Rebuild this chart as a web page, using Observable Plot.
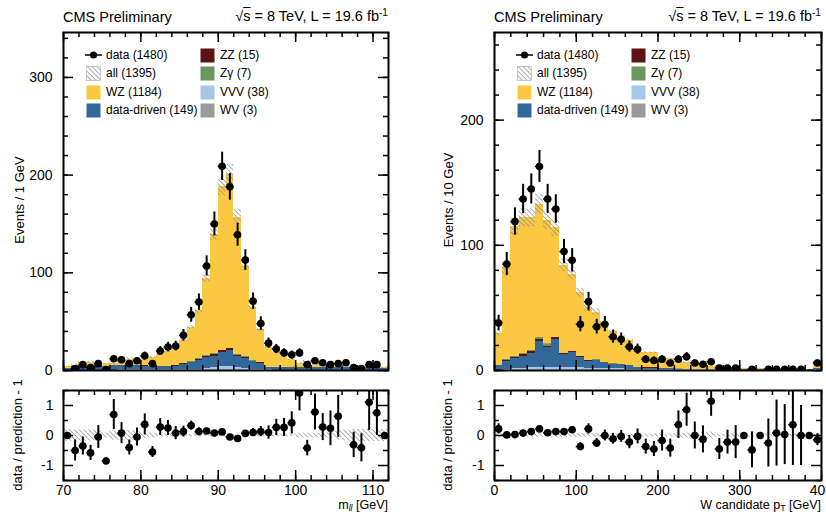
<!DOCTYPE html>
<html><head><meta charset="utf-8">
<script src="https://cdn.jsdelivr.net/npm/d3@7"></script>
<script src="https://cdn.jsdelivr.net/npm/@observablehq/plot@0.6"></script>
<style>
html,body{margin:0;padding:0;background:#fff;}
#wrap{position:relative;width:826px;height:515px;overflow:hidden;font-family:"Liberation Sans",Arial,Helvetica,sans-serif;color:#000;}
.t{position:absolute;white-space:nowrap;line-height:1;}
.rot{position:absolute;white-space:nowrap;line-height:1;transform:translate(-50%,-50%) rotate(-90deg);font-size:13px;}
.leg{position:absolute;font-size:12px;white-space:nowrap;line-height:1;}
sub{font-size:70%;vertical-align:-0.25em;line-height:0;}
sup{font-size:70%;vertical-align:0.5em;line-height:0;}
</style></head>
<body>
<svg style="position:absolute;left:0;top:0;width:0;height:0">
<defs><pattern id="hatch" patternUnits="userSpaceOnUse" width="3.4" height="3.4" patternTransform="rotate(-45)"><line x1="0" y1="-1" x2="0" y2="5" stroke="#8c8c8c" stroke-width="1.4"/></pattern></defs></svg>
<div id="wrap"></div>
<script>
// ---------- data ----------
const seriesOrder = ["VVV","data-driven","ZZ","Zγ","WV","WZ"];
const seriesColors = ["#a6c8e8","#33689b","#5c1313","#6a9660","#9a9a9a","#fbc941"];
const legendLabels = [["data (1480)","all (1395)","WZ (1184)","data-driven (149)"],["ZZ (15)","Zγ (7)","VVV (38)","WV (3)"]];

// left: m_ll, 1 GeV bins from 70 to 112
const massLow = d3.range(70, 112, 1);
const dataL = [0,2,6,3,7,1,12,11,7,10, 15,7,20,24,25,36,57,70,107,150, 209,188,139,113,71,48,28,22,18,16, 18,6,10,8,6,7,8,3,2,6, 6,0];
const vvvL = [0.3,0.4,0.4,0.4,0.5,0.5,0.5,0.6,0.6,0.6, 0.6,0.6,0.7,0.7,0.8,0.9,1.1,1.5,2.3,3.2, 4.2,4.6,3.4,2.4,1.4,1.0,0.6,0.5,0.5,0.5, 0.4,0.4,0.4,0.4,0.3,0.3,0.3,0.3,0.3,0.3, 0.3,0.2];
const ddL = [1.8,3.0,3.0,3.0,2.9,3.4,4.4,4.3,4.3,4.3, 3.8,3.3,3.2,3.2,3.6,5.4,6.9,9.1,10.9,11.6, 14.1,15.7,10.6,10.1,7.6,6.3,2.0,2.1,2.1,2.6, 2.2,2.2,2.2,2.2,2.3,2.3,2.3,2.3,2.3,2.3, 2.3,1.5];
const zzL = [0.2,0.3,0.3,0.3,0.3,0.3,0.3,0.3,0.3,0.3, 0.3,0.3,0.3,0.3,0.3,0.4,0.6,0.9,1.2,1.5, 1.8,1.8,1.3,1.0,0.6,0.4,0.2,0.2,0.2,0.2, 0.2,0.2,0.2,0.2,0.2,0.2,0.2,0.2,0.2,0.2, 0.2,0.1];
const zgL = [0.1,0.2,0.2,0.2,0.2,0.2,0.2,0.2,0.2,0.2, 0.2,0.2,0.2,0.2,0.2,0.2,0.3,0.4,0.5,0.6, 0.8,0.8,0.6,0.4,0.3,0.2,0.1,0.1,0.1,0.1, 0.1,0.1,0.1,0.1,0.1,0.1,0.1,0.1,0.1,0.1, 0.1,0.1];
const wvL = [0.07,0.07,0.07,0.07,0.07,0.07,0.07,0.07,0.07,0.07, 0.07,0.07,0.07,0.07,0.07,0.07,0.07,0.07,0.07,0.07, 0.07,0.07,0.07,0.07,0.07,0.07,0.07,0.07,0.07,0.07, 0.07,0.07,0.07,0.07,0.07,0.07,0.07,0.07,0.07,0.07, 0.07,0.07];
const wzL = [1.5,1.5,4,4,3,2.5,1.5,4.5,6,5, 6,9,11.5,14.5,18,24,35,49,79,122, 167,178,141,93,55,34,21,15,11.5,7.5, 4.5,6.5,2.5,4,1.7,1,0.5,1.5,1,0.5, 0.7,1];
const relErrL = [0.2,0.18,0.18,0.18,0.18,0.08,0.16,0.16,0.16,0.16, 0.1,0.08,0.05,0.05,0.05,0.04,0.04,0.04,0.04,0.04, 0.05,0.05,0.05,0.04,0.04,0.04,0.04,0.04,0.04,0.04, 0.08,0.08,0.08,0.08,0.08,0.15,0.18,0.2,0.2,0.2, 0.2,0.2];
const ratioL = [0,-0.5,-0.35,-0.58,-0.05,-0.85,0.7,0.08,-0.4,-0.05, 0.37,-0.55,0.28,0.25,0.08,0.13,0.33,0.13,0.15,0.08, 0.12,-0.05,-0.1,0.07,0.1,0.13,0.1,0.27,0.27,0.42, 1.42,-0.42,0.78,0.28,0.24,0.64,null,-0.31,-0.41,1.11, 0.76,0];
const ratioErrL = [0,0.35,0.3,0.25,0.38,0.1,0.5,0.35,0.25,0.3, 0.35,0.18,0.28,0.25,0.22,0.18,0.15,0.13,0.1,0.09, 0.08,0.07,0.08,0.1,0.13,0.17,0.22,0.27,0.3,0.37, 0.6,0.26,0.6,0.45,0.58,0.7,0,0.42,0.47,0.94, 0.76,0];

// right: W candidate pT, 10 GeV bins from 0 to 400
const ptLow = d3.range(0, 400, 10);
const dataR = [38,85,119,137,145,163,137,129,95,88, 37,55,35,37,27,25,19,17,9,8, 9,6,9,11,6,5,7,2,2,2, 0,1,0,1,1,1,1,1,0,6];
const vvvR = [0.3,0.8,1.2,1.5,2,2.5,2.5,2.5,2.3,2.2, 2,1.8,1.6,1.4,1.3,1.2,1.1,1,0.9,0.8, 0.8,0.7,0.6,0.6,0.5,0.5,0.4,0.4,0.4,0.3, 0.3,0.3,0.3,0.2,0.2,0.2,0.2,0.2,0.2,0.8];
const ddR = [3.3,6.5,8.5,10.0,11.7,20.7,15.6,22.4,10.2,12.2, 8.3,5.4,6.3,4.8,3.5,3.2,2.5,1.4,1.0,1.1, 0.6,0.6,0.4,0.3,0.3,0.3,0.2,0.2,0.1,0.1, 0.1,0.1,0.1,0.1,0.1,0.1,0.1,0.1,0.1,0.6];
const zzR = [0.2,0.8,1,1.2,1.3,1.5,1.2,1.3,1,0.8, 0.6,0.5,0.4,0.3,0.3,0.2,0.2,0.2,0.1,0.1, 0.1,0.1,0.1,0.1,0.1,0.05,0.05,0.05,0.05,0.05, 0.05,0.05,0.05,0.05,0.05,0.05,0.05,0.05,0.05,0.2];
const zgR = [0.1,0.3,0.4,0.5,0.8,1.8,1.8,0.4,0.3,0.2, 0.2,0.2,0.1,0.1,0.1,0.1,0.1,0.05,0.05,0.05, 0.05,0.05,0.05,0.05,0.05,0.05,0.05,0.05,0.05,0.05, 0.05,0.05,0.05,0.05,0.05,0.05,0.05,0.05,0.05,0.1];
const wvR = [0.05,0.1,0.1,0.1,0.15,0.15,0.15,0.1,0.1,0.1, 0.1,0.1,0.1,0.05,0.05,0.05,0.05,0.05,0.05,0.05, 0.05,0.05,0.05,0.05,0.05,0.05,0.05,0.05,0.05,0.05, 0.05,0.05,0.05,0.05,0.05,0.05,0.05,0.05,0.05,0.05];
const wzR = [26,73.5,103.8,108.7,106,106.3,98.7,87.3,70.1,61.5, 50.8,42,38.2,31.3,25.7,21.7,20,13.8,12.4,11.9, 8.9,8,5.8,5.4,5,4.6,2.8,2.9,2.0,2.1, 1.3,1.4,1.0,0.9,0.6,0.6,0.4,0.6,0.4,5.2];
const relErrR = [0.08,0.06,0.06,0.06,0.06,0.06,0.06,0.06,0.06,0.06, 0.06,0.06,0.06,0.05,0.05,0.05,0.05,0.05,0.05,0.05, 0.05,0.05,0.07,0.08,0.05,0.1,0.12,0.05,0.05,0.05, 0.05,0.05,0.05,0.05,0.05,0.05,0.05,0.05,0.05,0.05];
const ratioR = [0.22,0.02,0.03,0.08,0.13,0.22,0.09,0.13,0.13,0.19, -0.37,0.22,-0.25,0,-0.11,-0.03,-0.22,-0.03,-0.37,-0.45, -0.17,-0.42,0.36,0.86,0,-0.13,1.14,-0.45,-0.22,-0.22, 0,-0.48,0,-0.25,0.08,0.03,0.36,0,0,-0.14];
const ratioErrR = [0.17,0.1,0.09,0.08,0.08,0.08,0.08,0.09,0.1,0.11, 0.13,0.17,0.15,0.18,0.18,0.2,0.22,0.25,0.25,0.25, 0.35,0.3,0.46,0.55,0.45,0.45,0.5,0.35,0.4,0.55, 0,0.6,0,0.8,1.1,1.0,1.36,1.0,0,0.2];

// tick values
const yTicksMainL = [0,100,200,300];
const yTicksMainR = [0,100,200];
const xTicksL = [70,80,90,100,110];
const xTicksR = [0,100,200,300,400];
const yTicksRatio = [-1,0,1];
const yMinorRatio = [-1.5,-0.5,0.5,1.5];

// ---------- drawing ----------
const wrap = document.getElementById("wrap");
const FONT = '"Liberation Sans", Arial, Helvetica, sans-serif';
const baseStyle = {fontFamily: FONT, fontSize: "14px", background: "transparent", color: "black", overflow: "visible"};

function frameTicks(fw, fh, yMaj, yMin, xMaj, xMin) {
  const s = {stroke: "black", strokeWidth: 1.5};
  const M = 10, m = 5;
  return [
    Plot.tickY(yMaj, {y: d => d, insetRight: fw - M, ...s}),
    Plot.tickY(yMaj, {y: d => d, insetLeft: fw - M, ...s}),
    Plot.tickY(yMin, {y: d => d, insetRight: fw - m, ...s}),
    Plot.tickY(yMin, {y: d => d, insetLeft: fw - m, ...s}),
    Plot.tickX(xMaj, {x: d => d, insetTop: fh - M, ...s}),
    Plot.tickX(xMaj, {x: d => d, insetBottom: fh - M, ...s}),
    Plot.tickX(xMin, {x: d => d, insetTop: fh - m, ...s}),
    Plot.tickX(xMin, {x: d => d, insetBottom: fh - m, ...s})
  ];
}

function binsOf(lows, bw, comps, data, relErr) {
  return lows.map((lo, i) => ({
    x1: lo, x2: lo + bw, c: lo + bw / 2, n: data[i], e: relErr[i],
    tot: d3.sum(comps, s => s[i])
  }));
}

function mainPanel(o) {
  const fw = o.width - o.ml - o.mr, fh = o.height - o.mt - o.mb;
  const rows = [];
  seriesOrder.forEach((s, k) => o.lows.forEach((lo, i) =>
    rows.push({x1: lo, x2: lo + o.bw, series: s, v: o.comps[k][i]})));
  const bins = binsOf(o.lows, o.bw, o.comps, o.data, o.relErr);
  const pts = bins.filter(d => d.n > 0);
  const svg = Plot.plot({
    width: o.width, height: o.height,
    marginTop: o.mt, marginBottom: o.mb, marginLeft: o.ml, marginRight: o.mr,
    x: {domain: o.xDomain, axis: null},
    y: {domain: o.yDomain, axis: null},
    color: {domain: seriesOrder, range: seriesColors},
    style: baseStyle,
    marks: [
      Plot.rectY(rows, {x1: "x1", x2: "x2", y: "v", fill: "series", order: seriesOrder, inset: 0, shapeRendering: "crispEdges", clip: true}),
      Plot.rect(bins, {x1: "x1", x2: "x2", y1: d => d.tot * (1 - d.e), y2: d => d.tot * (1 + d.e), fill: "url(#hatch)", inset: 0, clip: true}),
      Plot.ruleY(pts, {y: "n", x1: "x1", x2: "x2", stroke: "black", strokeWidth: 1.5, clip: true}),
      Plot.ruleX(pts, {x: "c", y1: d => d.n - Math.sqrt(d.n), y2: d => d.n + Math.sqrt(d.n), stroke: "black", strokeWidth: 2, clip: true}),
      Plot.dot(pts, {x: "c", y: "n", r: 3.8, fill: "black", stroke: "none", clip: true}),
      ...frameTicks(fw, fh, o.yMaj, o.yMin, o.xMaj, o.xMin),
      Plot.frame({stroke: "black", strokeWidth: 2}),
      Plot.axisY({ticks: o.yMaj, tickSize: 0, tickPadding: 11, fontSize: 14, label: null, tickFormat: d => String(d)})
    ]
  });
  svg.style.position = "absolute";
  svg.style.left = o.left + "px";
  svg.style.top = o.top + "px";
  wrap.appendChild(svg);
}

function ratioPanel(o) {
  const fw = o.width - o.ml - o.mr, fh = o.height - o.mt - o.mb;
  const rows = o.lows.map((lo, i) => ({x1: lo, x2: lo + o.bw, c: lo + o.bw / 2, r: o.ratio[i], err: o.err[i], e: o.relErr[i]}));
  const pts = rows.filter(d => d.r !== null);
  const bars = pts.filter(d => d.err > 0);
  const svg = Plot.plot({
    width: o.width, height: o.height,
    marginTop: o.mt, marginBottom: o.mb, marginLeft: o.ml, marginRight: o.mr,
    x: {domain: o.xDomain, axis: null},
    y: {domain: [-1.5, 1.5], axis: null},
    style: baseStyle,
    marks: [
      Plot.rect(rows, {x1: "x1", x2: "x2", y1: d => -d.e, y2: d => d.e, fill: "url(#hatch)", inset: 0, clip: true}),
      Plot.ruleY(bars, {y: "r", x1: "x1", x2: "x2", stroke: "black", strokeWidth: 1.5, clip: true}),
      Plot.ruleX(bars, {x: "c", y1: d => d.r - d.err, y2: d => d.r + d.err, stroke: "black", strokeWidth: 2, clip: true}),
      Plot.dot(pts, {x: "c", y: "r", r: 3.8, fill: "black", stroke: "none", clip: true}),
      ...frameTicks(fw, fh, yTicksRatio, yMinorRatio, o.xMaj, o.xMin),
      Plot.frame({stroke: "black", strokeWidth: 2}),
      Plot.axisY({ticks: yTicksRatio, tickSize: 0, tickPadding: 10, fontSize: 14, label: null, tickFormat: d => String(d)}),
      Plot.axisX({ticks: o.xMaj, tickSize: 0, tickPadding: 5, fontSize: 14, label: null, tickFormat: d => String(d)})
    ]
  });
  svg.style.position = "absolute";
  svg.style.left = o.left + "px";
  svg.style.top = o.top + "px";
  wrap.appendChild(svg);
}

function addText(html, style, cls) {
  const d = document.createElement("div");
  d.className = cls || "t";
  d.innerHTML = html;
  Object.assign(d.style, style);
  wrap.appendChild(d);
  return d;
}

function legend(x0) {
  // x0 = frame left
  const rowsY = [55, 73.5, 92, 110.5];
  const colX = [x0 + 23, x0 + 137];
  const fills = [[null, "url(#hatch)", seriesColors[5], seriesColors[1]], [seriesColors[2], seriesColors[3], seriesColors[0], seriesColors[4]]];
  legendLabels.forEach((col, c) => col.forEach((lab, r) => {
    const y = rowsY[r];
    let sw;
    if (c === 0 && r === 0) {
      sw = `<svg width="17" height="14" style="position:absolute;left:${colX[c] - 1}px;top:${y - 7}px"><line x1="0" y1="7" x2="17" y2="7" stroke="black" stroke-width="1.5"/><circle cx="8.5" cy="7" r="3.6" fill="black"/></svg>`;
    } else {
      const f = fills[c][r];
      const st = f === "url(#hatch)" ? 'stroke="#bbb" stroke-width="0.8"' : "";
      sw = `<svg width="15" height="15" style="position:absolute;left:${colX[c]}px;top:${y - 7.5}px"><rect x="0.5" y="0.5" width="14" height="14" fill="${f}" ${st}/></svg>`;
    }
    wrap.insertAdjacentHTML("beforeend", sw);
    addText(lab, {left: (colX[c] + 20) + "px", top: (y - 6.5) + "px"}, "leg");
  }));
}

const L = {left: 0, width: 413, ml: 63, mr: 25};
const R = {left: 413, width: 413, ml: 81, mr: 5};

mainPanel({...L, top: 0, height: 379, mt: 32, mb: 9, lows: massLow, bw: 1,
  comps: [vvvL, ddL, zzL, zgL, wvL, wzL], data: dataL, relErr: relErrL,
  xDomain: [70, 112], yDomain: [0, 346], yMaj: yTicksMainL, yMin: d3.range(0, 346, 20),
  xMaj: xTicksL, xMin: d3.range(70, 113, 2)});
ratioPanel({...L, top: 380, height: 135, mt: 10, mb: 35, lows: massLow, bw: 1,
  ratio: ratioL, err: ratioErrL, relErr: relErrL, xDomain: [70, 112],
  xMaj: xTicksL, xMin: d3.range(70, 113, 2)});

mainPanel({...R, top: 0, height: 379, mt: 32, mb: 9, lows: ptLow, bw: 10,
  comps: [vvvR, ddR, zzR, zgR, wvR, wzR], data: dataR, relErr: relErrR,
  xDomain: [0, 400], yDomain: [0, 270], yMaj: yTicksMainR, yMin: d3.range(0, 271, 20),
  xMaj: xTicksR, xMin: d3.range(0, 401, 20)});
ratioPanel({...R, top: 380, height: 135, mt: 10, mb: 35, lows: ptLow, bw: 10,
  ratio: ratioR, err: ratioErrR, relErr: relErrR, xDomain: [0, 400],
  xMaj: xTicksR, xMin: d3.range(0, 401, 20)});

// titles
const title = "CMS Preliminary";
const energy = '√<span style="text-decoration:overline">s</span> = 8 TeV, L = 19.6 fb<sup>-1</sup>';
[[63, 388], [494, 821]].forEach(([a, b]) => {
  addText(title, {left: a + "px", top: "10px", fontSize: "14.5px"});
  addText(energy, {right: (826 - b) + "px", top: "9px", fontSize: "14.5px"});
});

// axis titles
addText("Events / 1 GeV", {left: "18.5px", top: "200px"}, "rot");
addText("Events / 10 GeV", {left: "447.5px", top: "200px"}, "rot");
addText("data / prediction - 1", {left: "17px", top: "435px"}, "rot");
addText("data / prediction - 1", {left: "447px", top: "435px"}, "rot");
addText('m<sub><i>ll</i></sub> [GeV]', {right: (826 - 388) + "px", top: "499px", fontSize: "12.5px"});
addText('W candidate p<sub>T</sub> [GeV]', {right: (826 - 821) + "px", top: "499px", fontSize: "12.5px"});

legend(63);
legend(494);
</script>
</body></html>
